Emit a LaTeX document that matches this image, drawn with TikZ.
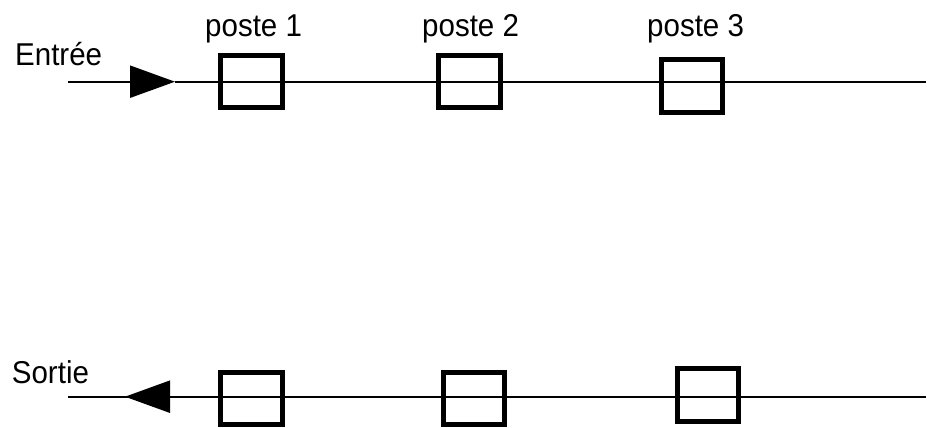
\documentclass[tikz,border=0pt]{standalone}
\usepackage{fontspec}
\setmainfont{Liberation Sans}
\usetikzlibrary{arrows.meta}
\begin{document}
\begin{tikzpicture}[x=1pt,y=-1pt,
  poste/.style={draw,rectangle,line width=5.2pt,inner sep=0pt,minimum width=62pt,minimum height=52pt},
  lbl/.style={anchor=base west,inner sep=0pt,font=\fontsize{29.5}{32}\selectfont},
  wire/.style={line width=2.3pt},
  flow/.style={wire,-{Triangle[length=45pt,width=32pt]}}]
\useasboundingbox (0,0) rectangle (927,428);
% top line
\coordinate (inA) at (68,81.7);
\coordinate (tipA) at (175,81.7);
\coordinate (endA) at (926,81.7);
\draw[flow] (inA) -- (tipA);
\draw[wire] (tipA) -- (endA);
% bottom line
\coordinate (inB) at (926,396.7);
\coordinate (tipB) at (125,396.7);
\coordinate (endB) at (68,396.7);
\draw[wire] (inB) -- (tipB);
\draw[flow] ([xshift=1pt]tipB) -- (tipB);
\draw[wire] (tipB) -- (endB);
% boxes
\node[poste] (t1) at (251.5,81.5) {};
\node[poste] (t2) at (469.5,81.5) {};
\node[poste,minimum width=61pt,minimum height=53pt] (t3) at (692,86) {};
\node[poste] (b1) at (251.5,398.5) {};
\node[poste,minimum width=61pt] (b2) at (474,398.5) {};
\node[poste,minimum width=61pt,minimum height=53pt] (b3) at (708,395) {};
% labels
\node[lbl] (entree) at (15,66) {\scalebox{1}[1.07]{Entrée}};
\node[lbl] (sortie) at (11.7,383.3) {\scalebox{1}[1.07]{Sortie}};
\node[lbl] (p1) at (205,36.7) {\scalebox{1}[1.07]{poste 1}};
\node[lbl] (p2) at (422,36.7) {\scalebox{1}[1.07]{poste 2}};
\node[lbl] (p3) at (647,36.7) {\scalebox{1}[1.07]{poste 3}};
\end{tikzpicture}
\end{document}
